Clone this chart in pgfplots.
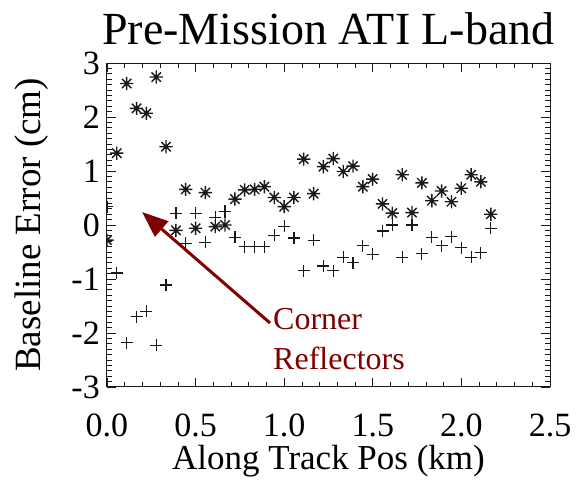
\documentclass[border=0pt]{standalone}
\usepackage{fontspec}
\setmainfont{Liberation Serif}
\usepackage{pgfplots}
\pgfplotsset{compat=1.18}
\usetikzlibrary{arrows.meta}

\definecolor{ink}{RGB}{25,25,25}
\definecolor{annot}{RGB}{128,0,0}

% eight-armed asterisk with a filled centre
\pgfdeclareplotmark{starburst}{%
  \pgfpathmoveto{\pgfqpointpolar{0}{\pgfplotmarksize}}\pgfpathlineto{\pgfqpointpolar{180}{\pgfplotmarksize}}%
  \pgfpathmoveto{\pgfqpointpolar{90}{\pgfplotmarksize}}\pgfpathlineto{\pgfqpointpolar{270}{\pgfplotmarksize}}%
  \pgfpathmoveto{\pgfqpointpolar{45}{\pgfplotmarksize}}\pgfpathlineto{\pgfqpointpolar{225}{\pgfplotmarksize}}%
  \pgfpathmoveto{\pgfqpointpolar{135}{\pgfplotmarksize}}\pgfpathlineto{\pgfqpointpolar{315}{\pgfplotmarksize}}%
  \pgfusepathqstroke
  \pgfpathcircle{\pgfpointorigin}{0.3\pgfplotmarksize}\pgfusepathqfill
}

% along-track position (km), star series, plus series (cm)
\pgfplotstableread{
x      s      p
0.000 -0.28   0.34
0.055  1.33  -0.89
0.111  2.62  -2.18
0.167  2.16  -1.70
0.222  2.07  -1.60
0.278  2.74  -2.23
0.333  1.45  -1.11
0.389 -0.10   0.22
0.444  0.66  -0.34
0.500 -0.06   0.22
0.555  0.60  -0.32
0.611 -0.03   0.14
0.666  0.00   0.25
0.722  0.48  -0.23
0.777  0.65  -0.40
0.833  0.66  -0.40
0.888  0.71  -0.40
0.944  0.51  -0.19
1.000  0.34  -0.02
1.055  0.51  -0.24
1.110  1.22  -0.85
1.166  0.58  -0.28
1.221  1.08  -0.76
1.277  1.23  -0.85
1.333  0.99  -0.60
1.388  1.09  -0.70
1.444  0.71  -0.38
1.499  0.85  -0.54
1.555  0.39  -0.11
1.610  0.22   0.00
1.666  0.93  -0.60
1.721  0.23   0.00
1.777  0.78  -0.53
1.833  0.45  -0.23
1.888  0.63  -0.38
1.944  0.43  -0.22
1.999  0.68  -0.42
2.055  0.93  -0.60
2.110  0.80  -0.51
2.166  0.20  -0.06
}\baseline

\begin{document}
\begin{tikzpicture}
\useasboundingbox (0,0) rectangle (576pt,482pt);
\begin{axis}[
  at={(107pt,95pt)}, anchor=south west,
  scale only axis, width=443pt, height=324pt,
  xmin=0, xmax=2.5, ymin=-3, ymax=3,
  xtick={0,0.5,1,1.5,2,2.5},
  xticklabels={0.0,0.5,1.0,1.5,2.0,2.5},
  ytick={-3,-2,-1,0,1,2,3},
  yticklabels={-3,-2,-1,0,1,2,3},
  minor x tick num=4, minor y tick num=9,
  tick pos=both, tick align=inside,
  major tick length=9pt, minor tick length=4.5pt,
  axis line style={ink, line width=1pt},
  every tick/.style={ink, line width=0.9pt},
  every minor tick/.style={ink, line width=0.7pt},
  x tick label style={font=\fontsize{34}{34}\selectfont, inner sep=0pt, anchor=base, yshift=-49pt},
  y tick label style={font=\fontsize{34}{34}\selectfont, inner sep=0pt, anchor=east, xshift=-7pt},
  title={Pre-Mission ATI L-band},
  title style={at={(axis description cs:0.5,1)}, anchor=base, yshift=13pt, inner sep=0pt,
    font=\fontsize{46}{46}\selectfont},
  xlabel={Along Track Pos (km)},
  xlabel style={at={(axis description cs:0.5,-0.255)}, anchor=base, inner sep=0pt,
    font=\fontsize{35}{35}\selectfont},
  ylabel={Baseline Error (cm)},
  ylabel style={at={(axis description cs:-0.15,0.5)}, anchor=base, inner sep=0pt,
    font=\fontsize{37}{37}\selectfont},
  clip mode=individual, clip marker paths=true,
]
\addplot[only marks, mark=starburst, mark size=6.6pt, ink, line width=1.4pt]
  table[x=x, y=s] {\baseline};
\addplot[only marks, mark=+, mark size=6pt, ink, line width=1.15pt]
  table[x=x, y=p] {\baseline};

\draw[annot, line width=3pt, -{Triangle[length=26pt, width=20pt]}]
  (axis cs:0.92,-1.815) -- (axis cs:0.198,0.24);
\node[annot, anchor=base west, inner sep=0pt, font=\fontsize{32}{32}\selectfont]
  at (axis cs:0.937,-1.944) {Corner};
\node[annot, anchor=base west, inner sep=0pt, font=\fontsize{32}{32}\selectfont]
  at (axis cs:0.937,-2.667) {Reflectors};
\end{axis}
\end{tikzpicture}
\end{document}
